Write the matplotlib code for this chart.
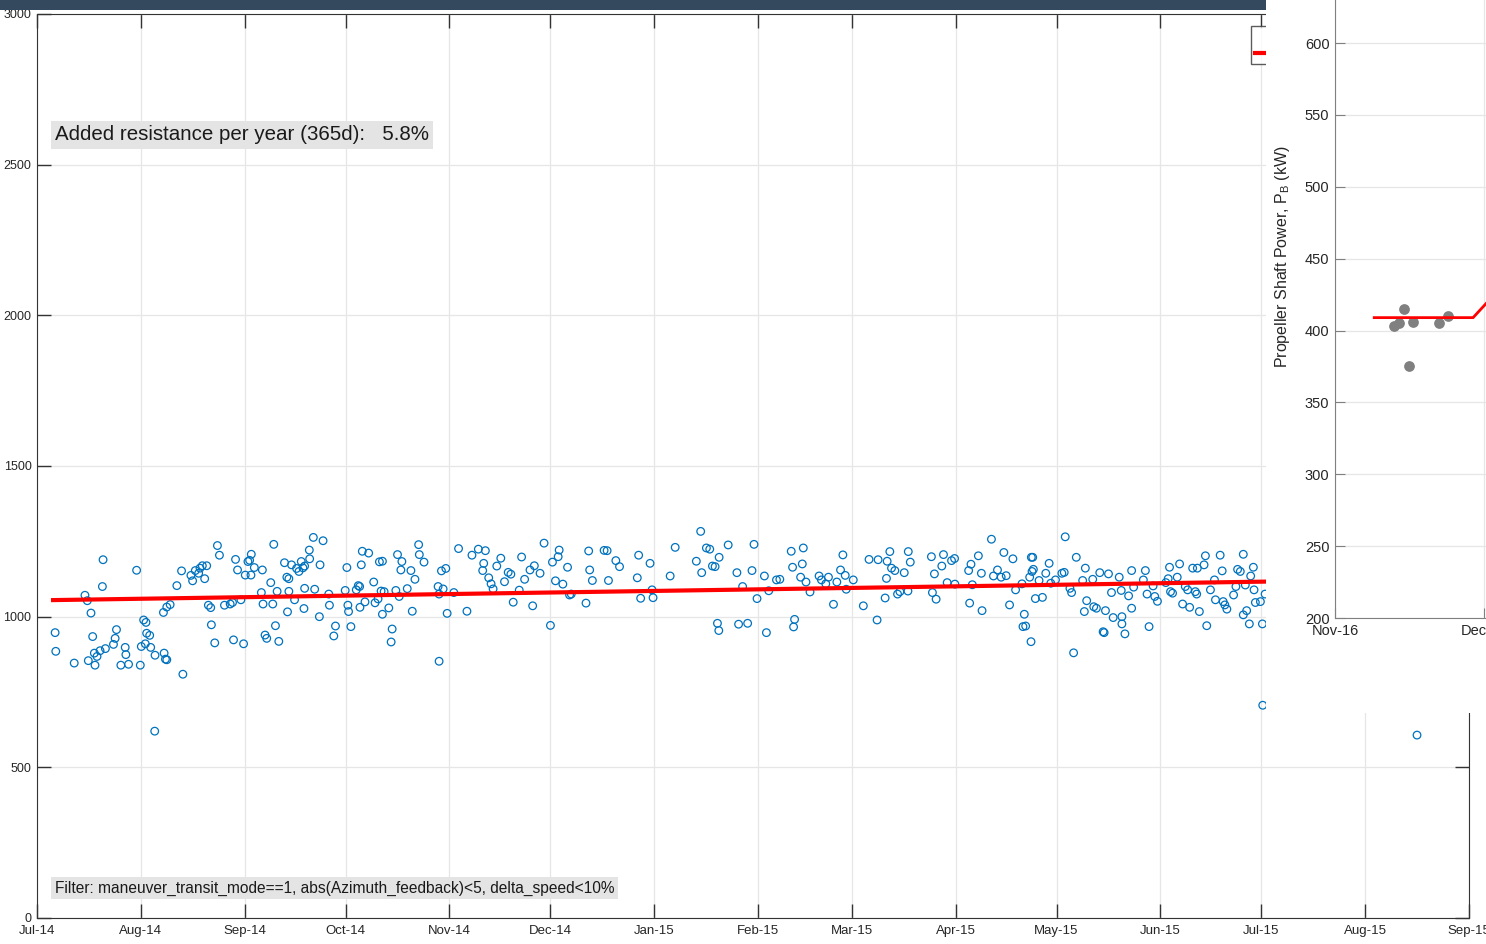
"""Added resistance scatter with a trend line and an overlaid shaft power panel."""

import matplotlib

matplotlib.use("Agg")
import matplotlib.dates as mdates
import matplotlib.pyplot as plt
import numpy as np
import pandas as pd
from matplotlib.patches import Rectangle

# --- data ----------------------------------------------------------------
# days since 2014-07-01, and the matching power values
day_offset = [
    5.4, 5.6, 11.1, 14.3, 15.0, 16.1, 16.6, 15.3, 17.1, 17.3,
    17.9, 18.8, 20.4, 19.7, 19.5, 22.8, 23.3, 23.7, 25.0, 26.3,
    26.5, 27.3, 29.7, 30.8, 31.1, 31.8, 32.5, 32.7, 33.6, 32.3,
    33.9, 35.2, 35.1, 37.9, 38.3, 38.7, 37.7, 38.7, 39.7, 41.7,
    43.1, 43.5, 45.9, 46.4, 47.2, 48.2, 48.6, 49.3, 50.6, 50.0,
    51.1, 51.8, 52.0, 53.0, 53.8, 54.4, 55.9, 57.6, 58.6, 58.3,
    59.2, 59.8, 60.8, 61.6, 62.1, 62.9, 63.4, 63.9, 63.8, 64.8,
    67.2, 66.9, 67.4, 68.0, 68.5, 69.7, 70.3, 70.6, 71.1, 71.6,
    72.1, 73.8, 74.5, 75.1, 74.7, 75.1, 75.9, 76.8, 77.4, 78.1,
    78.8, 79.3, 79.6, 79.8, 79.8, 81.3, 81.2, 82.4, 82.8, 84.2,
    84.4, 85.3, 87.0, 87.2, 88.5, 89.0, 91.9, 92.4, 92.7, 92.9,
    93.6, 95.2, 95.8, 96.2, 96.3, 96.7, 97.0, 97.8, 98.9, 100.4,
    100.8, 101.7, 102.1, 103.0, 102.6, 103.5, 103.0, 104.9, 105.9, 105.6,
    107.0, 107.5, 108.0, 108.8, 108.5, 110.4, 111.5, 111.9, 112.7, 113.8,
    114.0, 115.4,
    119.6, 119.9, 119.9, 120.6, 121.9, 121.1, 122.3, 124.3, 125.7, 128.2,
    129.7, 131.6, 133.7, 133.2, 132.9, 134.7, 135.4, 136.0, 137.1, 138.3,
    139.4, 140.5, 141.3, 142.0, 143.8, 144.5, 145.4, 147.0, 147.8, 148.3,
    150.0, 151.2, 153.1, 153.7, 154.6, 155.4, 155.7, 156.8, 158.2, 158.8,
    159.3, 163.7, 164.5, 164.8, 165.6, 169.1, 170.0, 170.4, 172.6, 173.7,
    179.0, 179.4, 180.0, 182.8, 183.4, 183.7, 188.8, 190.3, 196.6, 197.9,
    198.2, 199.6, 200.6, 201.4, 202.2, 203.4, 202.9, 203.3, 206.1, 208.7,
    209.2, 210.4, 211.9, 213.2, 213.8, 214.7, 216.9, 217.5, 218.2, 220.5,
    221.5, 224.9, 225.3, 225.9, 225.6, 227.7, 228.5, 228.2, 229.3, 230.5,
    233.2, 233.9, 235.2, 236.0, 237.5, 238.5, 239.6, 240.3, 241.0, 241.3,
    243.4, 246.4, 248.1, 250.5, 250.8, 252.9, 253.5, 253.3, 254.3, 254.8,
    255.8, 256.6, 257.3, 258.6, 259.8, 260.4, 259.7, 266.7, 267.0, 267.6,
    268.1, 269.8, 270.3, 271.4, 272.7, 273.6, 273.7, 277.8, 278.1, 278.5,
    278.9, 280.7, 281.6, 281.8, 284.6, 285.2, 286.4, 287.5, 288.3, 289.0,
    290.0, 291.0, 291.8, 293.7, 294.4, 294.0, 294.8, 296.4, 296.5, 296.9,
    297.1, 296.7, 296.0, 297.7, 298.8, 299.8, 300.8, 301.8, 302.3, 303.7,
    305.6, 306.3, 306.6, 308.0, 308.5, 309.1, 309.9, 311.8, 312.3, 312.6,
    313.0, 314.8, 315.1, 315.9, 316.9, 318.6, 317.9, 318.2, 319.5, 320.4,
    320.9, 322.7, 323.5, 323.5, 323.3, 324.4, 325.5, 326.4, 326.4, 327.0,
    329.9, 330.5, 331.0, 331.6, 332.8, 333.3, 334.1, 336.6, 337.3, 337.7,
    338.0, 338.6, 340.0, 340.7, 341.6, 342.4, 343.1, 343.7, 344.6, 345.4,
    346.0, 345.8, 346.6, 348.0, 348.4, 348.8, 349.9, 351.1, 351.4, 352.8,
    353.4, 353.7, 354.2, 354.8, 356.8, 357.5, 358.0, 358.8, 359.7, 359.7,
    360.3, 360.7, 361.5, 361.9, 362.7, 362.9, 363.3, 364.8, 365.4, 365.5,
    366.2, 411.5,
]
power = [
    947, 885, 846, 1071, 1053, 1012, 934, 854, 879, 839,
    868, 887, 894, 1189, 1100, 908, 928, 957, 839, 898,
    874, 842, 1154, 839, 901, 989, 981, 945, 938, 910,
    898, 872, 620, 879, 859, 857, 1014, 1032, 1040, 1103,
    1152, 809, 1137, 1119, 1153, 1144, 1161, 1169, 1169, 1126,
    1038, 1030, 973, 913, 1236, 1204, 1038, 1042, 923, 1047,
    1190, 1155, 1056, 910, 1138, 1183, 1187, 1207, 1138, 1163,
    1155, 1080, 1042, 939, 928, 1113, 1042, 1240, 970, 1084,
    918, 1179, 1131, 1126, 1016, 1084, 1172, 1056, 1160, 1150,
    1183, 1162, 1027, 1094, 1168, 1192, 1221, 1263, 1091, 1000,
    1172, 1252, 1075, 1038, 936, 969, 1087, 1163, 1038, 1017,
    967, 1089, 1103, 1100, 1031, 1172, 1217, 1049, 1211, 1115,
    1046, 1059, 1182, 1184, 1085, 1083, 1008, 1029, 959, 916,
    1087, 1206, 1067, 1183, 1155, 1093, 1153, 1018, 1124, 1239,
    1206, 1181,
    1100, 1075, 852, 1152, 1160, 1092, 1011, 1080, 1226, 1018,
    1204, 1224, 1219, 1177, 1153, 1129, 1109, 1092, 1168, 1194,
    1116, 1147, 1141, 1048, 1088, 1198, 1124, 1155, 1036, 1169,
    1144, 1244, 971, 1181, 1119, 1199, 1221, 1108, 1164, 1072,
    1075, 1045, 1218, 1155, 1120, 1220, 1219, 1120, 1186, 1166,
    1129, 1204, 1061, 1177, 1089, 1063, 1135, 1230, 1184, 1283,
    1146, 1228, 1224, 1168, 1166, 1197, 978, 954, 1238, 1146,
    975, 1100, 978, 1153, 1240, 1060, 1135, 947, 1086, 1122,
    1124, 1217, 1164, 991, 966, 1131, 1228, 1175, 1115, 1082,
    1135, 1122, 1109, 1131, 1041, 1115, 1155, 1205, 1137, 1091,
    1122, 1036, 1190, 989, 1189, 1062, 1184, 1127, 1216, 1161,
    1153, 1075, 1083, 1146, 1216, 1181, 1085, 1199, 1080, 1142,
    1058, 1168, 1206, 1113, 1186, 1193, 1108, 1153, 1045, 1174,
    1106, 1202, 1144, 1020, 1257, 1135, 1155, 1131, 1213, 1136,
    1039, 1192, 1089, 1109, 1008, 967, 969, 917, 1197, 1197,
    1157, 1150, 1131, 1060, 1120, 1064, 1144, 1177, 1111, 1122,
    1144, 1147, 1265, 1094, 1080, 880, 1197, 1120, 1017, 1161,
    1053, 1124, 1033, 1028, 1146, 1020, 950, 947, 1142, 1080,
    997, 1131, 1000, 976, 1087, 943, 1069, 1153, 1028, 1098,
    1122, 1153, 1075, 967, 1102, 1067, 1051, 1113, 1126, 1164,
    1083, 1078, 1131, 1175, 1042, 1100, 1089, 1031, 1161, 1083,
    1161, 1075, 1017, 1172, 1202, 970, 1089, 1122, 1056, 1204,
    1152, 1050, 1039, 1025, 1072, 1100, 1157, 1150, 1207, 1006,
    1105, 1020, 976, 1135, 1164, 1089, 1047, 1050, 976, 706,
    1075, 607,
]
trend_days = [4.8, 411.5]
trend_power = [1055, 1124]

# overlaid panel: days since 2016-11-01
inset_days = [11.8, 12.9, 13.8, 14.9, 15.8, 20.9, 22.8]
inset_power = [403, 405, 415, 375, 406, 405, 410]
inset_fit_days = [7.9, 27.8, 31.0]
inset_fit_power = [409, 409, 421]

resistance_text = "Added resistance per year (365d):   5.8%"
filter_text = "Filter: maneuver_transit_mode==1, abs(Azimuth_feedback)<5, delta_speed<10%"

# --- figure ---------------------------------------------------------------
plt.rcParams["font.family"] = ["Liberation Sans", "DejaVu Sans"]
plt.rcParams["mathtext.fontset"] = "custom"
plt.rcParams["mathtext.rm"] = "Liberation Sans"

W, H = 1486, 944
fig = plt.figure(figsize=(W / 100, H / 100), dpi=100)


def fx(px):
    return px / W


def fy(py):
    return 1 - py / H


start = mdates.date2num(pd.Timestamp("2014-07-01"))
x = start + np.asarray(day_offset)

ax = fig.add_axes([fx(37), fy(918), fx(1469) - fx(37), fy(14) - fy(918)])
ax.scatter(x, power, s=30, facecolors="none", edgecolors="#0072BD",
           linewidths=0.9, label="Data", zorder=3)
ax.plot(start + np.asarray(trend_days), trend_power, color="red", lw=3,
        label="Trend", zorder=4)

ax.set_xlim(start, mdates.date2num(pd.Timestamp("2015-09-01")))
ax.set_ylim(0, 3000)
ax.set_yticks(np.arange(0, 3001, 500))
ax.xaxis.set_major_locator(mdates.MonthLocator())
ax.xaxis.set_major_formatter(mdates.DateFormatter("%b-%y"))
ax.grid(True, color="#e6e6e6", lw=0.9)
ax.set_axisbelow(True)
ax.tick_params(direction="in", length=10, width=1, color="#333333",
               top=True, right=True, labelcolor="#262626")
ax.tick_params(axis="y", labelsize=9, pad=4)
ax.tick_params(axis="x", labelsize=9.5, pad=5)
for sp in ax.spines.values():
    sp.set_color("#333333")

# legend sits mostly under the pasted panel, only its left edge shows
leg = ax.legend(loc="upper left", bbox_to_anchor=(fx(1251), fy(26)),
                bbox_transform=fig.transFigure, borderaxespad=0,
                fancybox=False, fontsize=9, handlelength=3.5,
                borderpad=0.3, handletextpad=0.5)
leg.get_frame().set_edgecolor("#333333")
leg.get_frame().set_linewidth(1)

fig.text(fx(55), fy(135), resistance_text, fontsize=14.8, va="center",
         color="#1a1a1a",
         bbox=dict(boxstyle="square,pad=0.2", fc="#e4e4e4", ec="none"))
fig.text(fx(55), fy(888), filter_text, fontsize=11.2, va="center",
         color="#1a1a1a",
         bbox=dict(boxstyle="square,pad=0.25", fc="#e4e4e4", ec="none"))

# dark header strip and the white panel pasted over the right side
fig.add_artist(Rectangle((0, fy(10)), fx(1266), 10 / H, transform=fig.transFigure,
                         facecolor="#34495e", edgecolor="none", zorder=4))
fig.add_artist(Rectangle((fx(1266), fy(713)), fx(1486) - fx(1266), 713 / H,
                         transform=fig.transFigure, facecolor="white",
                         edgecolor="none", zorder=5))

# --- overlaid shaft power panel -------------------------------------------
inset_start = mdates.date2num(pd.Timestamp("2016-11-01"))
ins = fig.add_axes([fx(1335), fy(618), 303 / W, 618 / H], zorder=6)
ins.scatter(inset_start + np.asarray(inset_days), inset_power, s=45,
            color="#808080", zorder=3)
ins.plot(inset_start + np.asarray(inset_fit_days), inset_fit_power,
         color="red", lw=2, zorder=4)
ins.set_xlim(inset_start, inset_start + 61)
ins.set_ylim(200, 630)
ins.set_yticks(np.arange(200, 601, 50))
ins.set_xticks([inset_start, mdates.date2num(pd.Timestamp("2016-12-01"))])
ins.set_xticklabels(["Nov-16", "Dec-16"])
ins.grid(True, color="#e6e6e6", lw=0.9)
ins.set_axisbelow(True)
ins.tick_params(direction="in", length=7, color="#808080", labelsize=10.5,
                labelcolor="#262626", pad=4)
for side in ("top", "right"):
    ins.spines[side].set_visible(False)
for side in ("left", "bottom"):
    ins.spines[side].set_color("#808080")

fig.text(fx(1282), fy(257), r"Propeller Shaft Power, P$_\mathrm{B}$ (kW)",
         rotation=90, ha="center", va="center", fontsize=11.5, color="#262626",
         zorder=7)

assert len(day_offset) == len(power)
fig.savefig("out.png", dpi=100)
